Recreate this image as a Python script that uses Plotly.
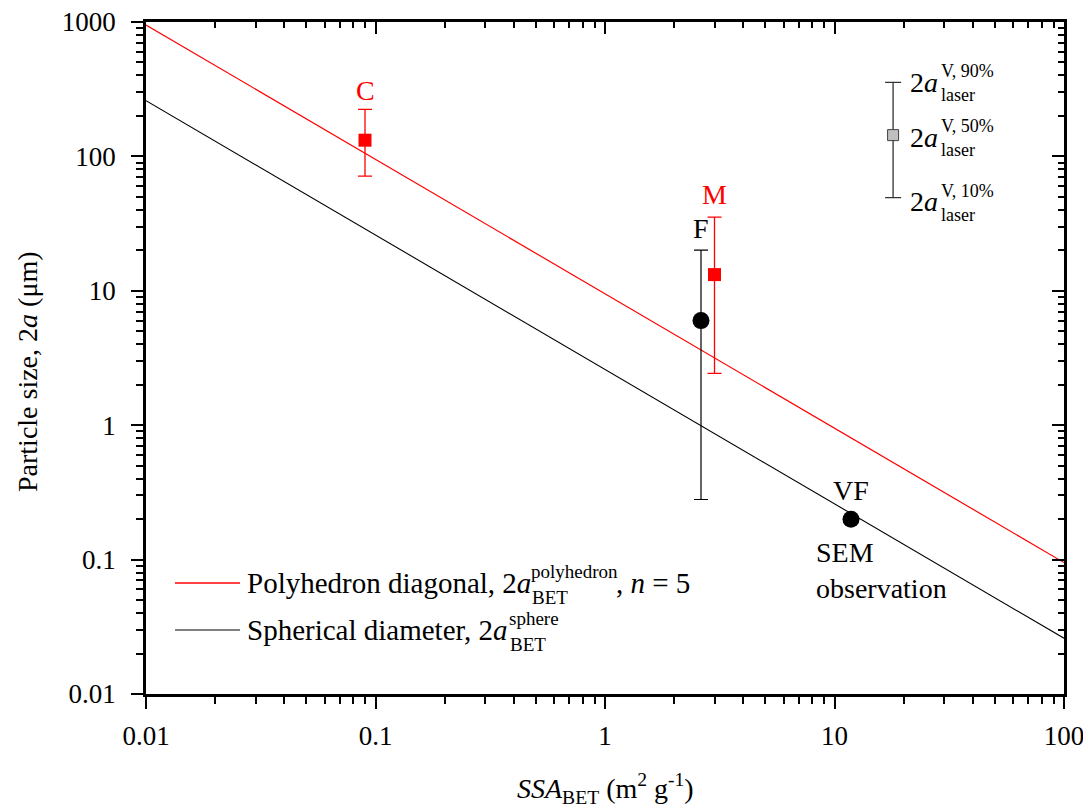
import math
import plotly.graph_objects as go

# ---------------- data ----------------
ssa_line = [0.01, 100]
d_polyhedron = [950, 0.095]
d_sphere = [260, 0.026]

red_names = ["C", "M"]
red_ssa = [0.09, 3.0]
red_d50 = [132, 13.2]
red_d90 = [224, 35.3]
red_d10 = [71.4, 2.43]

f_ssa = [2.62]
f_d50 = [6.0]
f_d90 = [20.1]
f_d10 = [0.28]

vf_ssa = [11.8]
vf_d = [0.2]

key_ssa = [18]
key_d50 = [144]
key_d90 = [356]
key_d10 = [49.3]

x_tickvals = [0.01, 0.1, 1, 10, 100]
x_ticktext = ["0.01", "0.1", "1", "10", "100"]
y_tickvals = [0.01, 0.1, 1, 10, 100, 1000]
y_ticktext = ["0.01", "0.1", "1", "10", "100", "1000"]

# ---------------- layout constants ----------------
OFF = 8                      # default page (body) margin of the html page
W, H = 1091 - OFF, 812 - OFF
L, R, T, B = 146, 1064, 22, 694   # plot box in screen pixels
FONT = "Liberation Serif, Times New Roman, serif"
FS = 28
TFS = 27
SFS = 18
LFS = 29
LSFS = 19


def px(xp):
    return (xp - L) / (R - L)


def py(yp):
    return (B - yp) / (B - T)


lg = math.log10

fig = go.Figure()

fig.add_trace(go.Scatter(x=ssa_line, y=d_polyhedron, mode="lines",
                         line=dict(color="#ff0000", width=1.2), showlegend=False))
fig.add_trace(go.Scatter(x=ssa_line, y=d_sphere, mode="lines",
                         line=dict(color="#000000", width=1.1), showlegend=False))

fig.add_trace(go.Scatter(
    x=red_ssa, y=red_d50, mode="markers",
    marker=dict(symbol="square", size=13, color="#ff0000"),
    error_y=dict(type="data", symmetric=False,
                 array=[a - b for a, b in zip(red_d90, red_d50)],
                 arrayminus=[b - c for b, c in zip(red_d50, red_d10)],
                 color="#ff0000", thickness=1.3, width=7),
    showlegend=False))

fig.add_trace(go.Scatter(
    x=f_ssa, y=f_d50, mode="markers",
    marker=dict(symbol="circle", size=17, color="#000000"),
    error_y=dict(type="data", symmetric=False,
                 array=[a - b for a, b in zip(f_d90, f_d50)],
                 arrayminus=[b - c for b, c in zip(f_d50, f_d10)],
                 color="#000000", thickness=1.2, width=7),
    showlegend=False))

fig.add_trace(go.Scatter(
    x=vf_ssa, y=vf_d, mode="markers",
    marker=dict(symbol="circle", size=17, color="#000000"),
    showlegend=False))

fig.add_trace(go.Scatter(
    x=key_ssa, y=key_d50, mode="markers",
    marker=dict(symbol="square", size=11, color="#c0c0c0",
                line=dict(color="#404040", width=1)),
    error_y=dict(type="data", symmetric=False,
                 array=[a - b for a, b in zip(key_d90, key_d50)],
                 arrayminus=[b - c for b, c in zip(key_d50, key_d10)],
                 color="#333333", thickness=1.3, width=8),
    showlegend=False))

# dummy trace for the mirrored (inside-tick) top/right axes
fig.add_trace(go.Scatter(x=[], y=[], xaxis="x2", yaxis="y2", showlegend=False))

ann = []


def dann(xv, yv, text, xshift=0, yshift=0, xanchor="center", size=FS, color="#000000"):
    ann.append(dict(x=lg(xv), y=lg(yv), xref="x", yref="y", text=text, showarrow=False,
                    xshift=xshift, yshift=yshift, xanchor=xanchor, yanchor="middle",
                    font=dict(family=FONT, size=size, color=color)))


# point labels, anchored to the data points
dann(red_ssa[0], red_d50[0], red_names[0], yshift=50, color="#ff0000")
dann(red_ssa[1], red_d50[1], red_names[1], yshift=80, color="#ff0000")
dann(f_ssa[0], f_d50[0], "F", yshift=92)
dann(vf_ssa[0], vf_d[0], "VF", yshift=29)
dann(vf_ssa[0], vf_d[0], "SEM", xshift=-37, yshift=-33, xanchor="left")
dann(vf_ssa[0], vf_d[0], "observation", xshift=-37, yshift=-69, xanchor="left")

# inset key labels
for yv, pct, dy in [(key_d90[0], "90%", 0), (key_d50[0], "50%", -2), (key_d10[0], "10%", -4)]:
    dann(key_ssa[0], yv, "2<i>a</i>", xshift=15, yshift=dy, xanchor="left")
    dann(key_ssa[0], yv, "V, " + pct, xshift=46, yshift=dy + 11, xanchor="left", size=SFS)
    dann(key_ssa[0], yv, "laser", xshift=46, yshift=dy - 13, xanchor="left", size=SFS)


# manual legend
def txt(x, y, s, size=LFS):
    ann.append(dict(x=px(x), y=py(y), xref="paper", yref="paper", text=s, showarrow=False,
                    xanchor="left", yanchor="middle",
                    font=dict(family=FONT, size=size, color="#000000")))


txt(245, 583, "Polyhedron diagonal, 2<i>a</i>")
txt(529, 571, "polyhedron", LSFS)
txt(530, 597, "BET", LSFS)
txt(614, 583, ", <i>n</i> = 5")
txt(245, 630, "Spherical diameter, 2<i>a</i>")
txt(507, 618, "sphere", LSFS)
txt(508, 644, "BET", LSFS)

shapes = [
    dict(type="line", xref="paper", yref="paper", x0=px(175), x1=px(240), y0=py(583), y1=py(583),
         line=dict(color="#ff0000", width=1.3)),
    dict(type="line", xref="paper", yref="paper", x0=px(175), x1=px(240), y0=py(630), y1=py(630),
         line=dict(color="#000000", width=1.1)),
]

# axis titles
ann.append(dict(x=px(605), y=py(788), xref="paper", yref="paper",
                text="<i>SSA</i><sub>BET</sub> (m<sup>2</sup> g<sup>-1</sup>)",
                showarrow=False, xanchor="center", yanchor="middle",
                font=dict(family=FONT, size=FS, color="#000000")))
ann.append(dict(x=px(28), y=py(372), xref="paper", yref="paper",
                text="Particle size, 2<i>a</i> (μm)", textangle=-90,
                showarrow=False, xanchor="center", yanchor="middle",
                font=dict(family=FONT, size=FS, color="#000000")))

axis_common = dict(type="log", showgrid=False, zeroline=False, showline=True,
                   linecolor="#000000", linewidth=2.5, tickcolor="#000000", tickwidth=2,
                   ticklen=12, automargin=False)

fig.update_layout(
    width=W, height=H,
    margin=dict(l=L - OFF, r=W + OFF - R, t=T - OFF, b=H + OFF - B, autoexpand=False),
    paper_bgcolor="white", plot_bgcolor="white",
    font=dict(family=FONT, size=FS, color="#000000"),
    xaxis=dict(**axis_common, range=[-2, 2], ticks="outside",
               tickvals=x_tickvals, ticktext=x_ticktext, ticklabelstandoff=4,
               ticklabeloverflow="allow",
               tickfont=dict(family=FONT, size=TFS, color="#000000"),
               minor=dict(ticks="outside", ticklen=7, tickwidth=2, tickcolor="#000000",
                          dtick="D1", showgrid=False)),
    yaxis=dict(**axis_common, range=[-2, 3], ticks="outside",
               tickvals=y_tickvals, ticktext=y_ticktext, ticklabelstandoff=10,
               ticklabeloverflow="allow",
               tickfont=dict(family=FONT, size=TFS, color="#000000"),
               minor=dict(ticks="outside", ticklen=7, tickwidth=2, tickcolor="#000000",
                          dtick="D1", showgrid=False)),
    xaxis2=dict(**axis_common, range=[-2, 2], ticks="inside", side="top",
                overlaying="x", anchor="y2", showticklabels=False,
                tickvals=x_tickvals,
                minor=dict(ticks="inside", ticklen=6, tickwidth=2, tickcolor="#000000",
                           dtick="D1", showgrid=False)),
    yaxis2=dict(**axis_common, range=[-2, 3], ticks="inside", side="right",
                overlaying="y", anchor="x2", showticklabels=False,
                tickvals=y_tickvals,
                minor=dict(ticks="inside", ticklen=6, tickwidth=2, tickcolor="#000000",
                           dtick="D1", showgrid=False)),
    annotations=ann,
    shapes=shapes,
    showlegend=False,
)

fig.write_html("out.html")
